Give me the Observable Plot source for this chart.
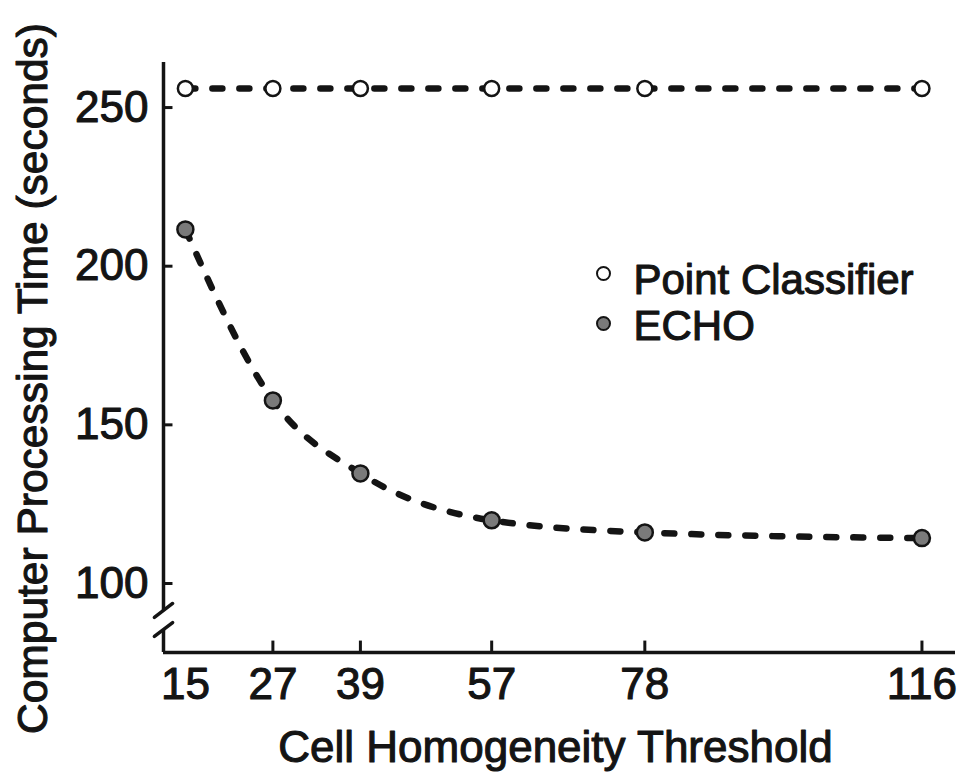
<!DOCTYPE html>
<html>
<head>
<meta charset="utf-8">
<script src="https://cdn.jsdelivr.net/npm/d3@7"></script>
<script src="https://cdn.jsdelivr.net/npm/@observablehq/plot@0.6"></script>
<style>
  html, body { margin: 0; padding: 0; background: #fff; }
  #chart { position: relative; width: 971px; height: 772px; }
  #chart svg text { stroke: #141414; stroke-width: 1.1px; stroke-linejoin: round; }
</style>
</head>
<body>
<div id="chart"></div>
<script>
// ---- data ----
const thresholds = [15, 27, 39, 57, 78, 116];
const pointClassifier = [256, 256, 256, 256, 256, 256];
const echo = [211.6, 157.7, 134.7, 119.9, 116.1, 114.3];
const xTickLabels = [15, 27, 39, 57, 78, 116];
const xTickMarks = [27, 39, 57, 78, 116];
const yTickLabels = [100, 150, 200, 250];
const seriesNames = ["Point Classifier", "ECHO"];
const xTitle = "Cell Homogeneity Threshold";
const yTitle = "Computer Processing Time (seconds)";

// ---- scale domains ----
const xMin = 12, xMax = 120.6;
const yMin = 78.25, yMax = 264.2;
const yBreakUpper = 91.5, yBreakLower = 85.5;

const pcData = thresholds.map((t, i) => ({x: t, y: pointClassifier[i]}));
const echoData = thresholds.map((t, i) => ({x: t, y: echo[i]}));
const breaks = [yBreakUpper, yBreakLower];

const ink = "#141414";
const font = "'Liberation Sans', Arial, Helvetica, sans-serif";

const chart = Plot.plot({
  width: 971,
  height: 772,
  marginLeft: 163,
  marginRight: 16,
  marginTop: 62,
  marginBottom: 120,
  style: {fontFamily: font, color: ink, background: "#fff", overflow: "visible"},
  x: {domain: [xMin, xMax]},
  y: {domain: [yMin, yMax]},
  marks: [
    // axis lines with break
    Plot.ruleX([xMin], {y1: yBreakUpper, y2: yMax, stroke: ink, strokeWidth: 3.5}),
    Plot.ruleX([xMin], {y1: yMin, y2: yBreakLower, stroke: ink, strokeWidth: 3.5}),
    Plot.link(breaks, {x1: xMin - 1.25, x2: xMin + 1.25, y1: d => d - 2.2, y2: d => d + 2.2, stroke: ink, strokeWidth: 3.5, strokeLinecap: "round"}),
    Plot.ruleY([yMin], {x1: xMin, x2: xMax, stroke: ink, strokeWidth: 3.5}),
    // inward ticks
    Plot.ruleY(yTickLabels, {x1: xMin, x2: xMin + 1.3, stroke: ink, strokeWidth: 3}),
    Plot.ruleX(xTickMarks, {y1: yMin, y2: yMin + 3.6, stroke: ink, strokeWidth: 3}),
    // tick labels
    Plot.axisX({ticks: xTickLabels, tickSize: 0, tickPadding: 15, fontSize: 44, label: null, tickFormat: d => String(d)}),
    Plot.axisY({ticks: yTickLabels, tickSize: 0, tickPadding: 15, fontSize: 44, label: null, tickFormat: d => String(d)}),
    // axis titles
    Plot.text([xTitle], {frameAnchor: "bottom", dx: -4, dy: 95, fontSize: 44, fill: ink, textAnchor: "middle", lineAnchor: "middle"}),
    Plot.text([yTitle], {frameAnchor: "left", rotate: -90, dx: -130, dy: 21, fontSize: 42.5, fill: ink, textAnchor: "middle", lineAnchor: "middle"}),
    // series lines
    Plot.line(pcData, {x: "x", y: "y", stroke: ink, strokeWidth: 6.5, strokeDasharray: "10,17", strokeLinecap: "round"}),
    Plot.line(echoData, {x: "x", y: "y", curve: "monotone-x", stroke: ink, strokeWidth: 6.5, strokeDasharray: "10,17", strokeLinecap: "round"}),
    // markers
    Plot.dot(pcData, {x: "x", y: "y", r: 7.5, fill: "#fff", stroke: ink, strokeWidth: 2.5}),
    Plot.dot(echoData, {x: "x", y: "y", r: 8, fill: "#7a7a7a", stroke: ink, strokeWidth: 2.5}),
    // legend
    Plot.dot([seriesNames[0]], {frameAnchor: "top-left", dx: 440, dy: 211, r: 6.5, fill: "#fff", stroke: ink, strokeWidth: 2}),
    Plot.dot([seriesNames[1]], {frameAnchor: "top-left", dx: 440, dy: 261, r: 6.5, fill: "#7a7a7a", stroke: ink, strokeWidth: 2}),
    Plot.text([seriesNames[0]], {frameAnchor: "top-left", dx: 470, dy: 218, fontSize: 42, fill: ink, textAnchor: "start", lineAnchor: "middle"}),
    Plot.text([seriesNames[1]], {frameAnchor: "top-left", dx: 470, dy: 264, fontSize: 42, fill: ink, textAnchor: "start", lineAnchor: "middle"})
  ]
});
document.getElementById("chart").appendChild(chart);
</script>
</body>
</html>
